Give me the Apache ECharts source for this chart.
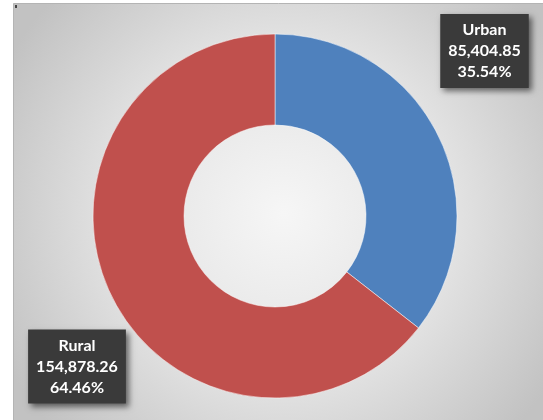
<!DOCTYPE html>
<html>
<head>
<meta charset="utf-8">
<script src="https://cdn.jsdelivr.net/npm/echarts@6/dist/echarts.min.js"></script>
<style>
  html, body { margin: 0; padding: 0; background: #fff; }
  #chart { width: 543px; height: 420px; }
</style>
</head>
<body>
<div id="chart"></div>
<script>
// Population split by area type
const categories = ['Urban', 'Rural'];
const values = [85404.85, 154878.26];
const colors = ['#4f81bd', '#c0504d'];

// Fixed label box centres (px)
const labelSpots = [[484.5, 51], [77, 366.5]];

const fmt = v => v.toLocaleString('en-US', { minimumFractionDigits: 2, maximumFractionDigits: 2 });

const chart = echarts.init(document.getElementById('chart'), null, { renderer: 'canvas' });

chart.setOption({
  backgroundColor: '#ffffff',
  animation: false,
  graphic: [
    {
      type: 'rect',
      shape: { x: 13.5, y: 3.5, width: 540, height: 420 },
      style: {
        fill: {
          type: 'radial', x: 0.5, y: 0.5, r: 0.75,
          colorStops: [
            { offset: 0, color: '#f6f6f6' },
            { offset: 0.55, color: '#e2e2e2' },
            { offset: 1, color: '#c2c2c2' }
          ]
        },
        stroke: '#b4b4b4',
        lineWidth: 1
      },
      z: -10
    },
    {
      type: 'rect',
      shape: { x: 15, y: 5, width: 2, height: 3 },
      style: { fill: '#444' },
      z: -9
    }
  ],
  series: [
    {
      type: 'pie',
      center: [275, 216],
      radius: [91, 182],
      startAngle: 90,
      clockwise: true,
      percentPrecision: 2,
      itemStyle: { borderColor: '#ffffff', borderWidth: 0.5 },
      data: categories.map((name, i) => ({
        name: name,
        value: values[i],
        itemStyle: { color: colors[i] }
      })),
      label: {
        show: true,
        position: 'inside',
        overflow: 'none',
        formatter: p => p.name + '\n' + fmt(p.value) + '\n' + p.percent.toFixed(2) + '%',
        color: '#ffffff',
        fontFamily: 'Lato, "Open Sans", sans-serif',
        fontWeight: 'bold',
        fontSize: 16,
        lineHeight: 21,
        align: 'center',
        backgroundColor: '#3a3a3a',
        padding: [6, 8, 5, 8],
        shadowColor: 'rgba(0,0,0,0.55)',
        shadowBlur: 6,
        shadowOffsetX: 3,
        shadowOffsetY: 3
      },
      labelLine: { show: false },
      labelLayout: params => ({
        x: labelSpots[params.dataIndex][0],
        y: labelSpots[params.dataIndex][1],
        align: 'center',
        verticalAlign: 'middle'
      }),
      emphasis: { disabled: true }
    }
  ]
});
</script>
</body>
</html>
